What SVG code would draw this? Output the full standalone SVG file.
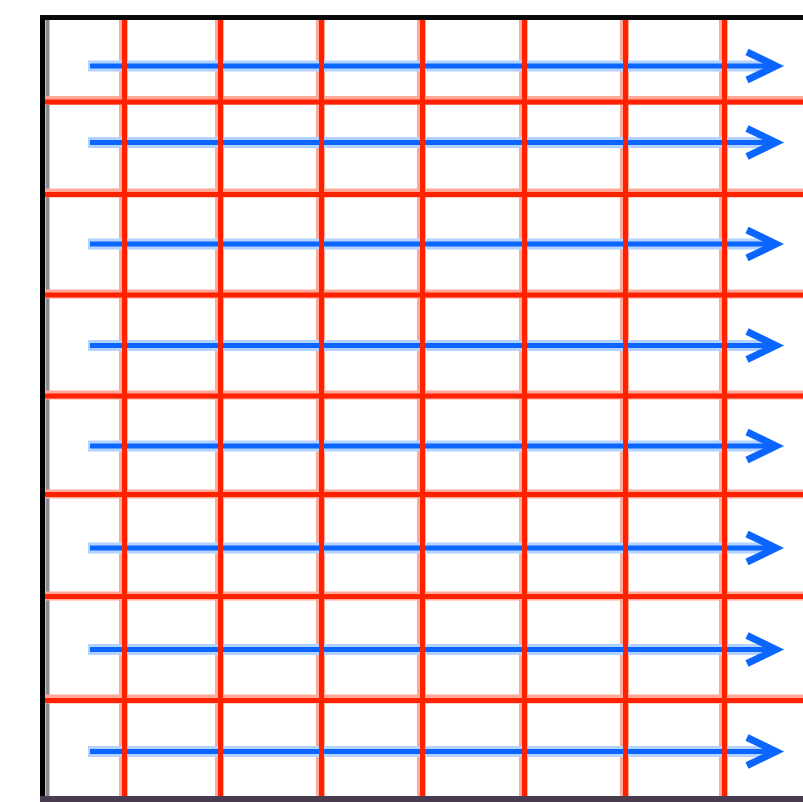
<svg xmlns="http://www.w3.org/2000/svg" width="803" height="802" viewBox="0 0 803 802">
<style>
.halo-r{stroke:#ffa898;stroke-width:9;fill:none}
.red{stroke:#ff2200;stroke-width:5;fill:none}
.halo-b{stroke:#b4d2ff;stroke-width:11;fill:none}
.blue{stroke:#0a66ff;stroke-width:5;fill:none}
</style>
<defs>
<marker id="chev" markerUnits="userSpaceOnUse" markerWidth="50" markerHeight="50" viewBox="-40 -25 50 50" refX="0" refY="0" orient="auto" overflow="visible">
<path d="M-29,-14 L0,0 L-29,14" fill="none" stroke="#0a66ff" stroke-width="7" stroke-linejoin="miter"/>
</marker>
</defs>
<rect x="0" y="0" width="803" height="802" fill="#ffffff"/>
<g id="frame">
<line x1="47.5" y1="20" x2="47.5" y2="796" stroke="#8a8a96" stroke-width="4"/>
<line x1="42.5" y1="15" x2="42.5" y2="802" stroke="#000" stroke-width="5"/>
<line x1="40" y1="17.5" x2="803" y2="17.5" stroke="#0a0a0a" stroke-width="5"/>
<line x1="40" y1="799" x2="803" y2="799" stroke="#4a3c50" stroke-width="6"/>
</g>
<g id="grid-halo" class="halo-r">
<line x1="123.5" y1="20" x2="123.5" y2="796"/>
<line x1="219.5" y1="20" x2="219.5" y2="796"/>
<line x1="320.5" y1="20" x2="320.5" y2="796"/>
<line x1="421.5" y1="20" x2="421.5" y2="796"/>
<line x1="523.5" y1="20" x2="523.5" y2="796"/>
<line x1="624.5" y1="20" x2="624.5" y2="796"/>
<line x1="723.5" y1="20" x2="723.5" y2="796"/>
<line x1="45" y1="100.5" x2="803" y2="100.5"/>
<line x1="45" y1="193" x2="803" y2="193"/>
<line x1="45" y1="294" x2="803" y2="294"/>
<line x1="45" y1="395" x2="803" y2="395"/>
<line x1="45" y1="494" x2="803" y2="494"/>
<line x1="45" y1="596" x2="803" y2="596"/>
<line x1="45" y1="699" x2="803" y2="699"/>
</g>
<g id="connectors">
<g class="halo-b">
<line x1="88" y1="66" x2="772" y2="66"/>
<line x1="88" y1="142.5" x2="772" y2="142.5"/>
<line x1="88" y1="244" x2="772" y2="244"/>
<line x1="88" y1="345.5" x2="772" y2="345.5"/>
<line x1="88" y1="446" x2="772" y2="446"/>
<line x1="88" y1="548" x2="772" y2="548"/>
<line x1="88" y1="649.5" x2="772" y2="649.5"/>
<line x1="88" y1="751.5" x2="772" y2="751.5"/>
</g>
<g class="blue" marker-end="url(#chev)">
<line x1="90" y1="66" x2="776" y2="66"/>
<line x1="90" y1="142.5" x2="776" y2="142.5"/>
<line x1="90" y1="244" x2="776" y2="244"/>
<line x1="90" y1="345.5" x2="776" y2="345.5"/>
<line x1="90" y1="446" x2="776" y2="446"/>
<line x1="90" y1="548" x2="776" y2="548"/>
<line x1="90" y1="649.5" x2="776" y2="649.5"/>
<line x1="90" y1="751.5" x2="776" y2="751.5"/>
</g>
</g>
<g id="grid" class="red">
<line x1="124.5" y1="20" x2="124.5" y2="796"/>
<line x1="220.5" y1="20" x2="220.5" y2="796"/>
<line x1="321.5" y1="20" x2="321.5" y2="796"/>
<line x1="422.5" y1="20" x2="422.5" y2="796"/>
<line x1="524.5" y1="20" x2="524.5" y2="796"/>
<line x1="625.5" y1="20" x2="625.5" y2="796"/>
<line x1="724.5" y1="20" x2="724.5" y2="796"/>
<line x1="45" y1="102" x2="803" y2="102"/>
<line x1="45" y1="194.5" x2="803" y2="194.5"/>
<line x1="45" y1="295" x2="803" y2="295"/>
<line x1="45" y1="396" x2="803" y2="396"/>
<line x1="45" y1="494.5" x2="803" y2="494.5"/>
<line x1="45" y1="596.5" x2="803" y2="596.5"/>
<line x1="45" y1="700.5" x2="803" y2="700.5"/>
</g>
</svg>
